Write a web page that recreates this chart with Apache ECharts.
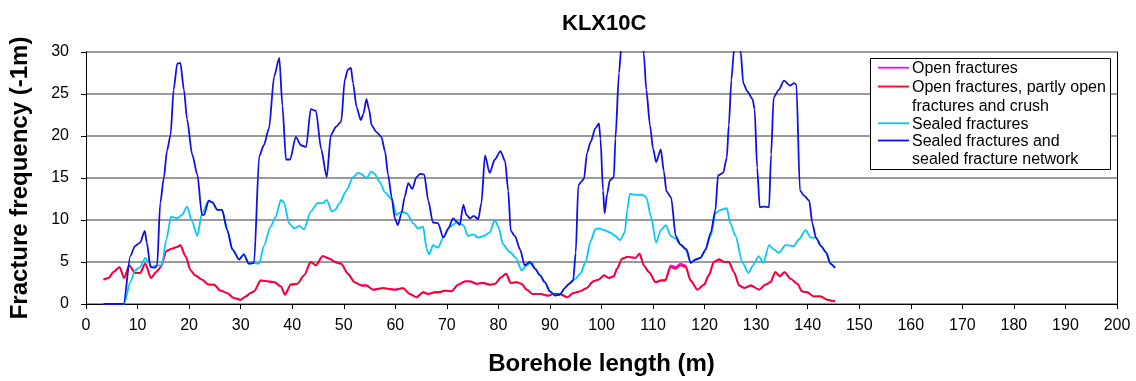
<!DOCTYPE html>
<html>
<head>
<meta charset="utf-8">
<script src="https://cdn.jsdelivr.net/npm/echarts@6/dist/echarts.min.js"></script>
<style>
html,body{margin:0;padding:0;background:#fff;}
#chart{width:1136px;height:381px;}
</style>
</head>
<body>
<div id="chart"></div>
<script>
const chartTitle = 'KLX10C';
const xAxisName = 'Borehole length (m)';
const yAxisName = 'Fracture frequency (-1m)';
const seriesNames = ['Open fractures', 'Open fractures, partly open fractures and crush', 'Sealed fractures', 'Sealed fractures and sealed fracture network'];
const legendLines = [['Open fractures'], ['Open fractures, partly open', 'fractures and crush'], ['Sealed fractures'], ['Sealed fractures and', 'sealed fracture network']];

// [borehole length (m), fracture frequency (1/m)]
const openFractures = [[3.4,2.9],[4.4,3.1],[5.3,3.8],[6.5,4.4],[7.4,3.1],[8.4,4.6],[9.5,3.7],[10.5,3.7],[11.5,4.8],[12.6,3.1],[13.6,3.8],[14.5,4.4],[15.6,6.3],[16.7,6.6],[17.7,6.8],[18.3,7],[19.3,5.7],[20.3,4],[21.2,3.4],[22.5,2.9],[23.8,2.3],[24.8,2.3],[26.1,1.6],[27.4,1.3],[28.7,0.7],[30,0.5],[31,0.9],[31.9,1.3],[32.6,1.5],[33.9,2.8],[35.2,2.7],[36.5,2.6],[37.8,2.1],[38.6,1.1],[39.7,2.3],[41,2.4],[42.3,3.4],[43.6,5],[44.6,4.6],[45.9,5.7],[47.2,5.4],[48.3,5],[49.5,4.8],[50.8,3.6],[52.1,2.6],[53.4,2.2],[54.4,2.2],[55.7,1.7],[57.6,1.9],[59.9,1.7],[61.5,1.9],[62.8,1.2],[64.1,0.8],[65.4,1.4],[66.4,1.2],[67.7,1.4],[68.6,1.4],[69.6,1.6],[70.9,1.5],[72.2,2.3],[73.5,2.7],[74.5,2.7],[75.8,2.4],[77.1,2.5],[78.3,2.3],[79.3,2.4],[80.6,3.2],[81.5,3.6],[82.4,2.5],[83.5,2.6],[84.5,2.4],[85.5,1.7],[86.6,1.2],[88.1,1.2],[89.7,1],[90.7,1.2],[91.9,1.2],[93.4,0.8],[94.5,1.3],[95.8,1.5],[97.1,1.9],[98.4,2.7],[99.4,2.9],[100.5,3.4],[101.4,3.1],[102.4,3.3],[103,4.2],[104,5.4],[105,5.6],[106.6,5.5],[107.4,6],[108.2,4.6],[109.2,3.8],[110.5,2.6],[111.5,2.8],[112.4,2.9],[113.4,4.6],[114.4,4.4],[115.3,4.8],[116.3,4.6],[117.3,2.8],[118.6,1.7],[119.9,2.3],[120.8,3.4],[121.8,5],[122.8,5.3],[123.8,5],[124.7,5],[125.7,3.8],[126.7,2.2],[127.7,1.9],[129,2.2],[130.6,1.7],[131.8,2.3],[132.8,2.6],[133.7,3.8],[134.6,3.3],[135.5,3.8],[136.7,3],[138,2.4],[138.9,1.5],[139.9,1.4],[141.2,0.9],[142.5,0.9],[143.8,0.5],[145.3,0.3]];

const openPartlyCrush = [[3.4,2.9],[4.4,3.1],[5.3,3.8],[6.5,4.4],[7.4,3.1],[8.4,4.6],[9.5,3.7],[10.5,3.7],[11.5,4.8],[12.6,3.1],[13.6,3.8],[14.5,4.4],[15.6,6.3],[16.7,6.6],[17.7,6.8],[18.3,7],[19.3,5.7],[20.3,4],[21.2,3.4],[22.5,2.9],[23.8,2.3],[24.8,2.3],[26.1,1.6],[27.4,1.3],[28.7,0.7],[30,0.5],[31,0.9],[31.9,1.3],[32.6,1.5],[33.9,2.8],[35.2,2.7],[36.5,2.6],[37.8,2.1],[38.6,1.1],[39.7,2.3],[41,2.4],[42.3,3.4],[43.6,5],[44.6,4.6],[45.9,5.7],[47.2,5.4],[48.3,5],[49.5,4.8],[50.8,3.6],[52.1,2.6],[53.4,2.2],[54.4,2.2],[55.7,1.7],[57.6,1.9],[59.9,1.7],[61.5,1.9],[62.8,1.2],[64.1,0.8],[65.4,1.4],[66.4,1.2],[67.7,1.4],[68.6,1.4],[69.6,1.6],[70.9,1.5],[72.2,2.3],[73.5,2.7],[74.5,2.7],[75.8,2.4],[77.1,2.5],[78.3,2.3],[79.3,2.4],[80.6,3.2],[81.5,3.6],[82.4,2.5],[83.5,2.6],[84.5,2.4],[85.5,1.7],[86.6,1.2],[88.1,1.2],[89.7,1],[90.7,1.2],[91.9,1.2],[93.4,0.8],[94.5,1.3],[95.8,1.5],[97.1,1.9],[98.4,2.7],[99.4,2.9],[100.5,3.4],[101.4,3.1],[102.4,3.3],[103,4.2],[104,5.4],[105,5.6],[106.6,5.5],[107.4,6],[108.2,4.6],[109.2,3.8],[110.5,2.6],[111.5,2.8],[112.4,2.8],[113.4,4.4],[114.4,4.2],[115.3,4.6],[116.3,4.4],[117.3,2.8],[118.6,1.7],[119.9,2.3],[120.8,3.4],[121.8,5],[122.8,5.3],[123.8,5],[124.7,5],[125.7,3.8],[126.7,2.2],[127.7,1.9],[129,2.2],[130.6,1.7],[131.8,2.3],[132.8,2.6],[133.7,3.8],[134.6,3.3],[135.5,3.8],[136.7,3],[138,2.4],[138.9,1.5],[139.9,1.4],[141.2,0.9],[142.5,0.9],[143.8,0.5],[145.3,0.3]];

const sealedFractures = [[3.4,0],[5,0],[7.4,0],[8.6,2.6],[9.5,4],[10.5,4.4],[11.5,5.5],[12.1,5],[12.8,4.4],[13.8,4.6],[14.7,4.6],[15.6,7.7],[16.5,10.4],[17.7,10.2],[18.6,10.6],[19.6,11.6],[20.6,9.8],[21.6,8.1],[22.5,10.8],[23.8,12.3],[24.5,12.1],[25.5,11.2],[26.4,11.2],[27.4,8.8],[28.4,6.5],[29.7,5.3],[30.6,5.9],[31.6,4.8],[32.6,4.9],[33.6,4.8],[34.5,6.9],[35.8,9.2],[36.8,10.4],[37.8,12.4],[38.4,12.1],[39.4,9.6],[40.4,9],[41.4,9.3],[42.3,8.9],[43.6,11],[44.9,12],[45.9,12],[46.7,12.4],[47.7,11],[48.3,11.2],[49.2,12],[50.5,13.5],[51.8,15.1],[52.8,15.6],[53.4,15.5],[54.4,15],[55.4,15.8],[56,15.5],[57,14.5],[58,13.3],[59.3,12.5],[60.2,10.6],[61.2,11],[62.2,10.8],[63.5,9.6],[64.4,9],[65.4,9.2],[66.1,6.5],[66.6,5.9],[67.3,7],[68.3,6.7],[69.3,7.9],[70.6,9.2],[71.9,9.7],[73.2,9.4],[74.1,8.1],[75.1,8.3],[76.1,7.9],[77.1,8.1],[78.3,8.5],[79.3,10],[80,9.2],[80.9,7.1],[82.2,6.2],[83.4,5.5],[84.5,4],[85.5,4.6],[86.5,5],[87.1,4.2],[88.1,3.4],[89,2.6],[90,1.5],[91,1],[91.9,1.1],[92.9,1.9],[93.9,2.5],[94.9,3],[95.9,3.6],[96.9,5],[97.9,7.5],[98.8,8.9],[99.5,9],[100.5,8.8],[101.7,8.5],[102.7,8.1],[103.6,7.6],[104.5,8.5],[105,11.2],[105.5,13.1],[106.6,13],[107.9,13],[108.7,12.7],[109.6,10.4],[110.6,7.3],[111.5,8.8],[112.5,9.4],[113.4,8.1],[114.4,7.8],[115.2,7.1],[116.3,6.5],[117.3,4.9],[118.3,5.3],[119.2,5.5],[119.9,6.1],[121.2,8.1],[122.1,10.8],[123.1,11.2],[124.3,11.4],[125,9.6],[126,8.1],[127.3,5],[128.5,3.7],[129.4,4.6],[130.5,5.7],[131.4,4.9],[132.5,7],[133.4,6.5],[134.4,6.1],[135.7,7],[137.3,6.9],[138.3,7.7],[139.6,8.8],[140.6,7.9],[141.6,7.9],[142.6,6.9],[143.6,6.1],[144.4,4.8],[145.3,4.3]];

const sealedNetwork = [[3.4,0],[5,0],[7.3,0],[8.6,5.7],[9.5,6.9],[10.5,7.3],[11.4,8.7],[11.8,7.3],[12.5,4.4],[13.4,4.3],[13.8,4.6],[14.4,12],[15.1,15],[15.7,18.2],[16.4,20.1],[17,25.5],[17.7,28.6],[18.3,28.7],[19,25.5],[19.6,22],[20.6,17.8],[21.6,15.4],[22.5,10.6],[22.9,10.6],[23.8,12.3],[24.5,12.1],[25.5,11.2],[26.4,11.2],[27.4,8.8],[28.4,6.5],[29.7,5.3],[30.6,5.9],[31.6,4.8],[32.6,4.9],[33.6,17.6],[34.5,18.9],[35.5,20.9],[36.5,27.1],[37.5,29.3],[38.1,23.6],[38.8,17.2],[39.6,17.2],[40.7,19.9],[41.7,18.9],[42.7,18.7],[43.6,23.2],[44.6,23],[45.6,18.5],[46.7,15.1],[47.5,20.1],[48.5,21.1],[49.5,21.7],[50.2,26.7],[50.8,27.9],[51.4,28.1],[51.8,26.3],[52.5,23.4],[53.3,21.9],[53.8,22.6],[54.4,24.4],[54.9,23.2],[55.4,21.3],[56.3,20.5],[57.3,19.9],[58,18.2],[58.6,15.4],[59.3,12.7],[59.9,10.2],[60.5,9.4],[61.2,10.8],[61.8,12.7],[62.5,14.4],[63.3,13.7],[64.1,15.1],[64.8,15.5],[65.6,15.4],[66.4,12.3],[67.3,9.7],[68.3,9.6],[69.3,7.9],[70.3,9],[71.2,10.2],[71.9,9.8],[72.5,9.4],[73.2,11.8],[73.8,10.6],[74.5,10.2],[75.2,10.5],[76.1,10.1],[76.7,12],[77.4,17.7],[78.3,15.6],[79.3,17.2],[80.4,18.2],[81.3,17],[81.9,13.5],[82.4,8.7],[83.2,8.1],[84.2,6.5],[85.1,4.6],[86.1,5],[87.1,4.2],[88.1,3.4],[89,2.6],[90,1.5],[91,1],[91.9,1.1],[92.9,1.9],[93.5,2.3],[94.5,2.8],[95,6.1],[95.5,14.1],[96,14.5],[96.6,14.9],[97.2,18],[97.9,19.3],[98.8,20.9],[99.5,21.5],[99.8,19.7],[100.3,13.5],[100.6,10.8],[101.1,13.1],[101.6,14.7],[102.4,15.1],[102.7,19.7],[103.4,27.5],[103.9,31],[104.5,34],[105.5,36],[106.5,36],[107.5,34],[108,31],[108.2,29.8],[108.7,25.5],[109.4,21.3],[110,18.5],[110.6,16.9],[111.5,18.4],[112.1,15.8],[112.6,13.4],[113.5,12.7],[114.4,8.1],[115.3,7.1],[116.5,6.5],[117.3,4.9],[118.3,5.3],[119.2,5.5],[120.2,6.5],[121.2,8.5],[122.1,11.2],[122.6,15.3],[123.6,15.6],[124.3,17.4],[124.7,21.3],[125.2,26.7],[125.7,30.2],[126.3,31],[127,30],[127.5,26.3],[128.3,25.3],[129.3,24.4],[129.7,23.2],[130.2,16.2],[130.7,11.5],[131.5,11.6],[132.5,11.5],[132.9,17.8],[133.4,24.6],[134.4,25.5],[135.4,26.6],[136.6,26],[137.3,26.3],[137.8,26.1],[138.5,13.5],[139.3,12.9],[140.3,12.3],[140.9,9.6],[141.6,7.9],[142.6,6.9],[143.6,6.1],[144.4,4.8],[145.3,4.3]];

const xMin = 0, xMax = 200, xStep = 10;
const yMin = 0, yMax = 30, yStep = 5;

const FONT = '"Liberation Sans", Arial, sans-serif';
const colors = ['#ff00ff', '#ff0022', '#00c8ff', '#1010e6'];
const seriesData = [openFractures, openPartlyCrush, sealedFractures, sealedNetwork];

const chart = echarts.init(document.getElementById('chart'), null, {renderer: 'canvas'});

const legendGraphics = [];
(function buildLegend(){
  const boxX = 870, boxY = 58, boxW = 240, boxH = 111;
  legendGraphics.push({type:'rect', shape:{x:boxX+0.5, y:boxY+0.5, width:boxW, height:boxH}, style:{fill:'#fff', stroke:'#000', lineWidth:1}, z:100});
  const lineYs = [67.7, 86.5, 123.3, 140.5];
  const textYs = [[68.5], [88, 106.5], [124.3], [141.5, 160]];
  legendLines.forEach((lines, i) => {
    legendGraphics.push({type:'line', shape:{x1:878, y1:lineYs[i], x2:909, y2:lineYs[i]}, style:{stroke:colors[i], lineWidth:1.8}, z:101});
    lines.forEach((t, j) => {
      legendGraphics.push({type:'text', x:912, y:textYs[i][j], style:{text:t, fill:'#000', font:'16px ' + FONT, textVerticalAlign:'middle', verticalAlign:'middle'}, z:101});
    });
  });
})();

const option = {
  animation: false,
  backgroundColor: '#fff',
  title: {
    text: chartTitle, left: 562, top: 13, padding: 0,
    textStyle: {fontFamily: FONT, fontSize: 22, fontWeight: 'bold', color: '#000'}
  },
  grid: {left: 86, right: 19, top: 52, bottom: 72, containLabel: false},
  xAxis: {
    type: 'value', min: xMin, max: xMax, interval: xStep,
    name: xAxisName, nameLocation: 'middle', nameGap: 48,
    nameTextStyle: {fontFamily: FONT, fontSize: 24, fontWeight: 'bold', color: '#000'},
    axisLine: {lineStyle: {color: '#000', width: 1}},
    axisTick: {show: true, inside: false, length: 5, lineStyle: {color: '#000'}},
    axisLabel: {fontFamily: FONT, fontSize: 16, color: '#000', margin: 14},
    splitLine: {show: false}
  },
  yAxis: [{
    type: 'value', min: yMin, max: yMax, interval: yStep,
    name: yAxisName, nameLocation: 'middle', nameGap: 54, nameRotate: 90,
    nameTextStyle: {fontFamily: FONT, fontSize: 24, fontWeight: 'bold', color: '#000'},
    axisLine: {show: true, lineStyle: {color: '#000', width: 1}},
    axisTick: {show: true, inside: false, length: 5, lineStyle: {color: '#000'}},
    axisLabel: {fontFamily: FONT, fontSize: 16, color: '#000', margin: 17},
    splitLine: {show: true, lineStyle: {color: '#7a7a7a', width: 1.5}}
  }, {
    type: 'value', min: yMin, max: yMax, interval: yStep, position: 'right',
    axisLine: {show: true, lineStyle: {color: '#000', width: 1}},
    axisTick: {show: false}, axisLabel: {show: false}, splitLine: {show: false}
  }],
  series: seriesNames.map((name, i) => ({
    name: name, type: 'line', data: seriesData[i], showSymbol: false, symbol: 'none',
    smooth: 0.25, smoothMonotone: 'x', clip: true,
    lineStyle: {color: colors[i], width: 1.8}, itemStyle: {color: colors[i]},
    z: 2 + i
  })),
  graphic: legendGraphics
};
chart.setOption(option);
</script>
</body>
</html>
